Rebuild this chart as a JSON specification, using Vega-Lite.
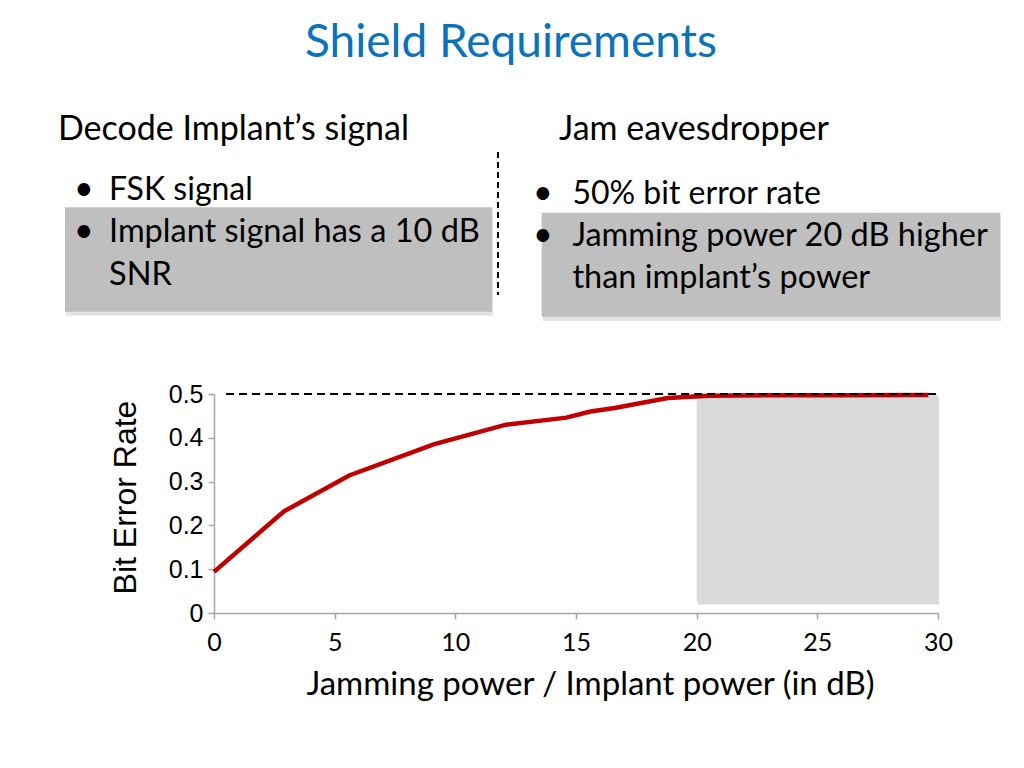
{
  "$schema": "https://vega.github.io/schema/vega-lite/v6.json",
  "width": 724,
  "height": 219,
  "autosize": {"type": "none"},
  "padding": {"left": 214, "top": 394, "right": 86, "bottom": 155},
  "background": "white",
  "config": {
    "view": {"stroke": null},
    "text": {"font": "Lato", "fontSize": 32, "color": "black", "align": "left", "baseline": "alphabetic"}
  },
  "layer": [
    {
      "data": {"values": [{}]},
      "mark": {"type": "rect", "color": "#b0b0b0", "opacity": 0.35},
      "encoding": {"x": {"datum": -6.13}, "x2": {"datum": 11.56}, "y": {"datum": 0.9217}, "y2": {"datum": 0.6788}}
    },
    {
      "data": {"values": [{}]},
      "mark": {"type": "rect", "color": "#bfbfbf"},
      "encoding": {"x": {"datum": -6.174}, "x2": {"datum": 11.52}, "y": {"datum": 0.9263}, "y2": {"datum": 0.6879}}
    },
    {
      "data": {"values": [{}]},
      "mark": {"type": "rect", "color": "#b0b0b0", "opacity": 0.35},
      "encoding": {"x": {"datum": 13.62}, "x2": {"datum": 32.61}, "y": {"datum": 0.9093}, "y2": {"datum": 0.6674}}
    },
    {
      "data": {"values": [{}]},
      "mark": {"type": "rect", "color": "#bfbfbf"},
      "encoding": {"x": {"datum": 13.58}, "x2": {"datum": 32.57}, "y": {"datum": 0.9139}, "y2": {"datum": 0.6765}}
    },
    {
      "data": {"values": [{}]},
      "mark": {"type": "rule", "color": "black", "strokeWidth": 2, "strokeDash": [6, 4]},
      "encoding": {"x": {"datum": 11.768}, "y": {"datum": 1.0525}, "y2": {"datum": 0.726}}
    },
    {
      "data": {"values": [{}]},
      "mark": {"type": "text", "fontSize": 46, "color": "#0b72bd", "align": "center"},
      "encoding": {"x": {"datum": 12.307}, "y": {"datum": 1.2694}, "text": {"value": "Shield Requirements"}}
    },
    {
      "data": {"values": [{}]},
      "mark": {"type": "text", "fontSize": 34},
      "encoding": {"x": {"datum": -6.464}, "y": {"datum": 1.0799}, "text": {"value": "Decode Implant’s signal"}}
    },
    {
      "data": {"values": [{}]},
      "mark": {"type": "text", "fontSize": 34},
      "encoding": {"x": {"datum": 14.296}, "y": {"datum": 1.0799}, "text": {"value": "Jam eavesdropper"}}
    },
    {
      "data": {"values": [{}]},
      "mark": {"type": "text", "fontSize": 34},
      "encoding": {"x": {"datum": -5.8}, "y": {"datum": 0.9429}, "text": {"value": "•"}}
    },
    {
      "data": {"values": [{}]},
      "mark": {"type": "text"},
      "encoding": {"x": {"datum": -4.35}, "y": {"datum": 0.9429}, "text": {"value": "FSK signal"}}
    },
    {
      "data": {"values": [{}]},
      "mark": {"type": "text", "fontSize": 34},
      "encoding": {"x": {"datum": -5.8}, "y": {"datum": 0.847}, "text": {"value": "•"}}
    },
    {
      "data": {"values": [{}]},
      "mark": {"type": "text", "fontSize": 32.5, "lineHeight": 43, "lineBreak": "\n"},
      "encoding": {"x": {"datum": -4.35}, "y": {"datum": 0.847}, "text": {"value": "Implant signal has a 10 dB\nSNR"}}
    },
    {
      "data": {"values": [{}]},
      "mark": {"type": "text", "fontSize": 34},
      "encoding": {"x": {"datum": 13.22}, "y": {"datum": 0.9338}, "text": {"value": "•"}}
    },
    {
      "data": {"values": [{}]},
      "mark": {"type": "text"},
      "encoding": {"x": {"datum": 14.85}, "y": {"datum": 0.9338}, "text": {"value": "50% bit error rate"}}
    },
    {
      "data": {"values": [{}]},
      "mark": {"type": "text", "fontSize": 34},
      "encoding": {"x": {"datum": 13.22}, "y": {"datum": 0.8379}, "text": {"value": "•"}}
    },
    {
      "data": {"values": [{}]},
      "mark": {"type": "text", "fontSize": 32.5, "lineHeight": 42, "lineBreak": "\n"},
      "encoding": {"x": {"datum": 14.85}, "y": {"datum": 0.8379}, "text": {"value": "Jamming power 20 dB higher\nthan implant’s power"}}
    },
    {
      "data": {"values": [{}]},
      "mark": {"type": "rect", "color": "#b0b0b0", "opacity": 0.45},
      "encoding": {"x": {"datum": 20.05}, "x2": {"datum": 30.05}, "y": {"datum": 0.492}, "y2": {"datum": 0.0195}}
    },
    {
      "data": {"values": [{}]},
      "mark": {"type": "rect", "color": "#d9d9d9"},
      "encoding": {"x": {"datum": 20}, "x2": {"datum": 30}, "y": {"datum": 0.497}, "y2": {"datum": 0.026}}
    },
    {
      "data": {
        "values": [
          {"jam": 0, "ber": 0.094},
          {"jam": 2.9, "ber": 0.232},
          {"jam": 5.6, "ber": 0.314},
          {"jam": 9.1, "ber": 0.385},
          {"jam": 12.1, "ber": 0.43},
          {"jam": 14.6, "ber": 0.446},
          {"jam": 15.6, "ber": 0.46},
          {"jam": 16.6, "ber": 0.468},
          {"jam": 18.8, "ber": 0.491},
          {"jam": 20.5, "ber": 0.496},
          {"jam": 23, "ber": 0.497},
          {"jam": 26, "ber": 0.497},
          {"jam": 29.6, "ber": 0.498}
        ]
      },
      "mark": {"type": "line", "color": "#c00000", "strokeWidth": 4.5},
      "encoding": {
        "x": {
          "field": "jam",
          "type": "quantitative",
          "scale": {"domain": [0, 30], "nice": false, "zero": false},
          "axis": {
            "title": "Jamming power / Implant power (in dB)",
            "values": [0, 5, 10, 15, 20, 25, 30],
            "grid": false,
            "domainColor": "#a6a6a6",
            "domainWidth": 1.5,
            "tickColor": "#a6a6a6",
            "tickWidth": 1.5,
            "tickSize": 6,
            "labelFont": "Lato",
            "labelFontSize": 25,
            "labelColor": "black",
            "labelPadding": 11,
            "labelFlush": false,
            "titleFont": "Lato",
            "titleFontSize": 33,
            "titleFontWeight": "normal",
            "titleColor": "black",
            "titlePadding": 13,
            "titleX": 376
          }
        },
        "y": {
          "field": "ber",
          "type": "quantitative",
          "scale": {"domain": [0, 0.5], "nice": false, "zero": false},
          "axis": {
            "title": "Bit Error Rate",
            "values": [0, 0.1, 0.2, 0.3, 0.4, 0.5],
            "format": "~g",
            "grid": false,
            "domainColor": "#a6a6a6",
            "domainWidth": 1.5,
            "tickColor": "#a6a6a6",
            "tickWidth": 1.5,
            "tickSize": 6,
            "labelFont": "Liberation Sans",
            "labelFontSize": 25,
            "labelColor": "black",
            "labelPadding": 5,
            "titleFont": "Liberation Sans",
            "titleFontSize": 32,
            "titleFontWeight": "normal",
            "titleColor": "black",
            "titlePadding": 26,
            "titleY": 103
          }
        }
      }
    },
    {
      "data": {"values": [{}]},
      "mark": {"type": "rule", "color": "black", "strokeWidth": 2, "strokeDash": [8, 5]},
      "encoding": {"x": {"datum": 0.5}, "x2": {"datum": 30}, "y": {"datum": 0.5}}
    }
  ]
}
